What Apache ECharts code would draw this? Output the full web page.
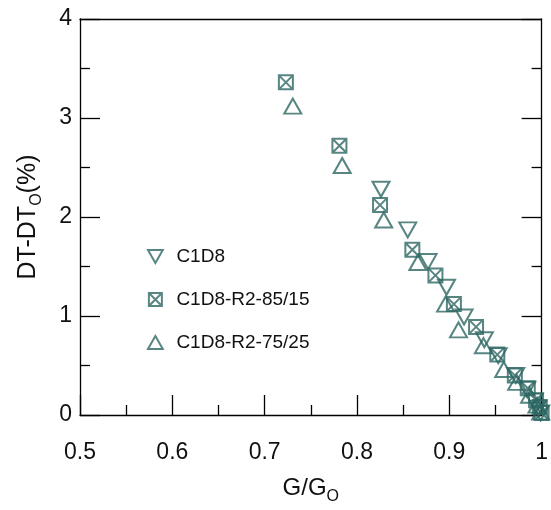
<!DOCTYPE html>
<html>
<head>
<meta charset="utf-8">
<script src="https://cdn.jsdelivr.net/npm/echarts@6/dist/echarts.min.js"></script>
<style>html,body{margin:0;padding:0;background:#fff}#c{width:551px;height:510px}</style>
</head>
<body>
<div id="c"></div>
<script>
// ---- data ----
var seriesNames = ['C1D8', 'C1D8-R2-85/15', 'C1D8-R2-75/25'];
var c1d8X = [0.826, 0.855, 0.877, 0.897, 0.916, 0.938, 0.953, 0.972, 0.984, 0.992, 0.996, 0.999];
var c1d8Y = [2.28, 1.87, 1.55, 1.29, 0.99, 0.76, 0.60, 0.40, 0.26, 0.14, 0.07, 0.02];
var r85X = [0.723, 0.781, 0.825, 0.860, 0.885, 0.905, 0.929, 0.952, 0.971, 0.985, 0.994, 0.998, 1.000];
var r85Y = [3.36, 2.72, 2.12, 1.67, 1.41, 1.12, 0.89, 0.61, 0.40, 0.27, 0.15, 0.08, 0.02];
var r75X = [0.7305, 0.784, 0.829, 0.866, 0.896, 0.910, 0.937, 0.959, 0.973, 0.987, 0.995, 0.999];
var r75Y = [3.12, 2.52, 1.97, 1.54, 1.12, 0.86, 0.70, 0.46, 0.33, 0.20, 0.10, 0.03];
var xTicks = ['0.5', '0.6', '0.7', '0.8', '0.9', '1'];
var yTicks = ['0', '1', '2', '3', '4'];

function zip(a, b) { return a.map(function (v, i) { return [v, b[i]]; }); }

var teal = '#2d6663';
var font = 'Liberation Sans, Arial, sans-serif';
var sqX = 'path://M0,0 L10,0 L10,10 L0,10 Z M0,0 L10,10 M10,0 L0,10';
var triDown = 'path://M0,0 L10,0 L5,8.8 Z';
var triUp = 'path://M5,0 L10,8.8 L0,8.8 Z';

var chart = echarts.init(document.getElementById('c'), null, {renderer: 'canvas'});
var axisLine = {show: true, onZero: false, lineStyle: {color: '#000', width: 1.3}};
var tick = {show: true, inside: true, length: 20, lineStyle: {color: '#000', width: 1.3}};
var minor = {show: true, splitNumber: 2, length: 10, lineStyle: {color: '#000', width: 1.3}};

chart.setOption({
  animation: false,
  backgroundColor: '#fff',
  grid: {left: 80, right: 3, top: 19, bottom: 91, containLabel: false},
  legend: {
    orient: 'vertical', left: 142, top: 242,
    itemWidth: 32, itemHeight: 13, itemGap: 24, symbolKeepAspect: true,
    textStyle: {fontSize: 19, color: '#111', fontFamily: font},
    data: [
      {name: seriesNames[0], icon: triDown},
      {name: seriesNames[1], icon: sqX},
      {name: seriesNames[2], icon: triUp}
    ]
  },
  xAxis: [{
    type: 'value', min: 0.5, max: 1.0, interval: 0.1, position: 'bottom',
    axisLine: axisLine, axisTick: tick, minorTick: minor, splitLine: {show: false},
    axisLabel: {fontSize: 23, color: '#111', fontFamily: font, margin: 26,
      formatter: function (v) { return xTicks[Math.round((v - 0.5) * 10)]; }},
    name: '{a|G/G}{b|O}', nameLocation: 'middle', nameGap: 56,
    nameTextStyle: {rich: {
      a: {fontSize: 24, lineHeight: 34, color: '#111', fontFamily: font},
      b: {fontSize: 16, lineHeight: 12, color: '#111', fontFamily: font, verticalAlign: 'bottom'}
    }}
  }, {
    type: 'value', min: 0.5, max: 1.0, interval: 0.1, position: 'top',
    axisLine: axisLine, axisTick: {show: false}, axisLabel: {show: false}, splitLine: {show: false}
  }],
  yAxis: [{
    type: 'value', min: 0, max: 4, interval: 1, position: 'left',
    axisLine: axisLine, axisTick: tick, minorTick: minor, splitLine: {show: false},
    axisLabel: {fontSize: 23, color: '#111', fontFamily: font, margin: 8,
      formatter: function (v) { return yTicks[Math.round(v)]; }},
    name: '{a|DT-DT}{b|O}{a|(%)}', nameLocation: 'middle', nameGap: 35, nameRotate: 90,
    nameTextStyle: {rich: {
      a: {fontSize: 25, lineHeight: 34, color: '#111', fontFamily: font},
      b: {fontSize: 16, lineHeight: 12, color: '#111', fontFamily: font, verticalAlign: 'bottom'}
    }}
  }, {
    type: 'value', min: 0, max: 4, interval: 1, position: 'right',
    axisLine: axisLine, axisTick: tick, minorTick: minor, splitLine: {show: false},
    axisLabel: {show: false}
  }],
  series: [{
    name: seriesNames[0], type: 'scatter', data: zip(c1d8X, c1d8Y),
    symbol: 'triangle', symbolRotate: 180, symbolSize: [17, 15],
    itemStyle: {color: 'rgba(255,255,255,0)', borderColor: teal, borderWidth: 2}
  }, {
    name: seriesNames[1], type: 'scatter', data: zip(r85X, r85Y),
    symbol: sqX, symbolSize: 14,
    itemStyle: {color: 'rgba(255,255,255,0)', borderColor: teal, borderWidth: 2}
  }, {
    name: seriesNames[2], type: 'scatter', data: zip(r75X, r75Y),
    symbol: 'triangle', symbolSize: [17, 15],
    itemStyle: {color: 'rgba(255,255,255,0)', borderColor: teal, borderWidth: 2}
  }]
});
</script>
</body>
</html>
